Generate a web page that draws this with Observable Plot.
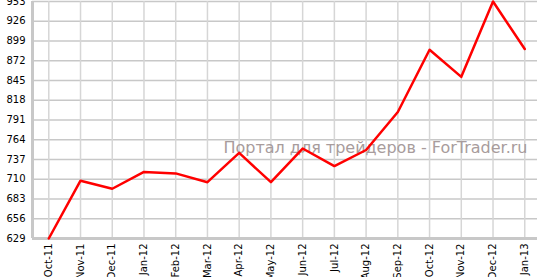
<!DOCTYPE html>
<html>
<head>
<meta charset="utf-8">
<script src="https://cdn.jsdelivr.net/npm/d3@7"></script>
<script src="https://cdn.jsdelivr.net/npm/@observablehq/plot@0.6"></script>
<style>
  html, body { margin: 0; padding: 0; background: #fff; }
  #chart svg { display: block; font-family: 'DejaVu Sans', Verdana, sans-serif; font-size: 10px; color: #000; }
</style>
</head>
<body>
<div id="chart"></div>
<script>
const months = ["Oct-11","Nov-11","Dec-11","Jan-12","Feb-12","Mar-12","Apr-12","May-12","Jun-12","Jul-12","Aug-12","Sep-12","Oct-12","Nov-12","Dec-12","Jan-13"];
const values = [629, 708, 697, 720, 718, 706, 746, 706, 752, 728, 750, 802, 887, 850, 953, 888];
const yTicks = [629, 656, 683, 710, 737, 764, 791, 818, 845, 872, 899, 926, 953];
const watermark = "Портал для трейдеров - ForTrader.ru";

const data = months.map((m, i) => ({month: m, value: values[i]}));

const chart = Plot.plot({
  width: 537,
  height: 277,
  marginLeft: 32,
  marginRight: 0,
  marginTop: 1,
  marginBottom: 39,
  x: {type: "point", domain: months, padding: 0.4575, align: 0.561, round: false, tickRotate: -90, tickSize: 0, tickPadding: 5, label: null},
  y: {domain: [629, 953], ticks: yTicks, tickSize: 0, tickPadding: 7, label: null},
  marks: [
    Plot.ruleY(yTicks, {stroke: "#c8c8c8", strokeWidth: 1.5}),
    Plot.ruleX(months, {stroke: "#d6d6d6", strokeWidth: 1.5}),
    Plot.ruleX([months[0]], {stroke: "#c8c8c8", strokeWidth: 3, dx: -16.3}),
    Plot.ruleY([629], {stroke: "#c8c8c8", strokeWidth: 3}),
    Plot.text([watermark], {text: d => d, frameAnchor: "top-right", dx: -10, dy: 140, textAnchor: "end", fontSize: 16, fill: "#a89c9c"}),
    Plot.line(data, {x: "month", y: "value", stroke: "#ff0000", strokeWidth: 2.5})
  ]
});
document.getElementById("chart").appendChild(chart);
</script>
</body>
</html>
